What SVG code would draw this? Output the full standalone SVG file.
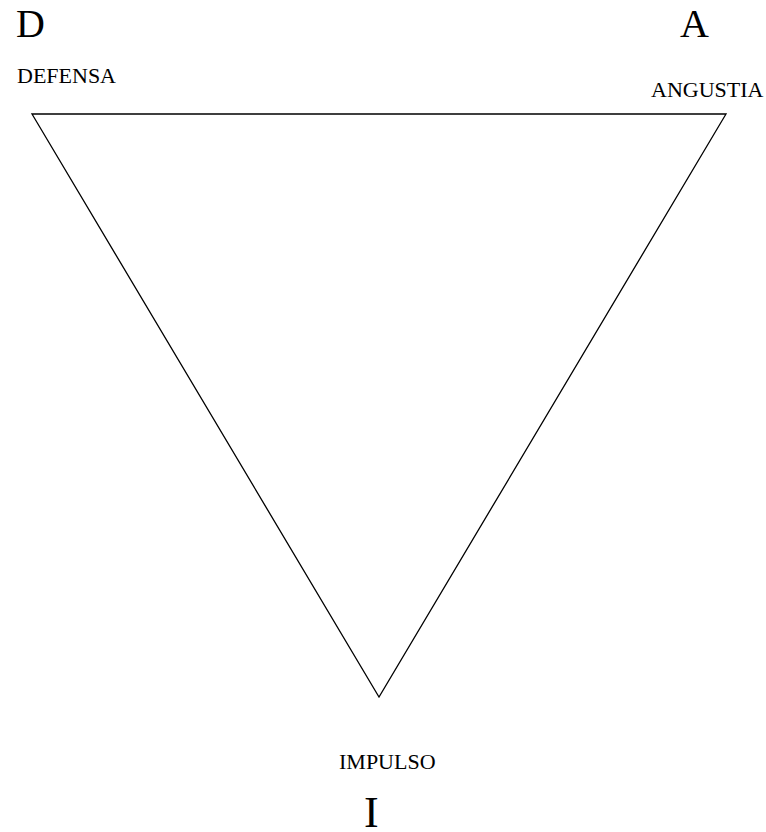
<svg xmlns="http://www.w3.org/2000/svg" width="766" height="832" viewBox="0 0 766 832">
<style>
.big{font-family:"Liberation Serif","Times New Roman",serif;font-size:40px;fill:#000}
.lbl{font-family:"Liberation Serif","Times New Roman",serif;font-size:22px;fill:#000}
.edge{fill:none;stroke:#000;stroke-width:1.3}
</style>
<rect width="766" height="832" fill="#fff"/>
<g id="connectors">
<polygon class="edge" points="32,114 726,114 379,697"/>
</g>
<g id="node-D">
<text class="big" x="16" y="37">D</text>
<text class="lbl" x="17" y="83">DEFENSA</text>
</g>
<g id="node-A">
<text class="big" x="680" y="37">A</text>
<text class="lbl" x="651" y="97">ANGUSTIA</text>
</g>
<g id="node-I">
<text class="lbl" x="339" y="769">IMPULSO</text>
<text class="big" x="364" y="827" style="font-size:44px">I</text>
</g>
</svg>
